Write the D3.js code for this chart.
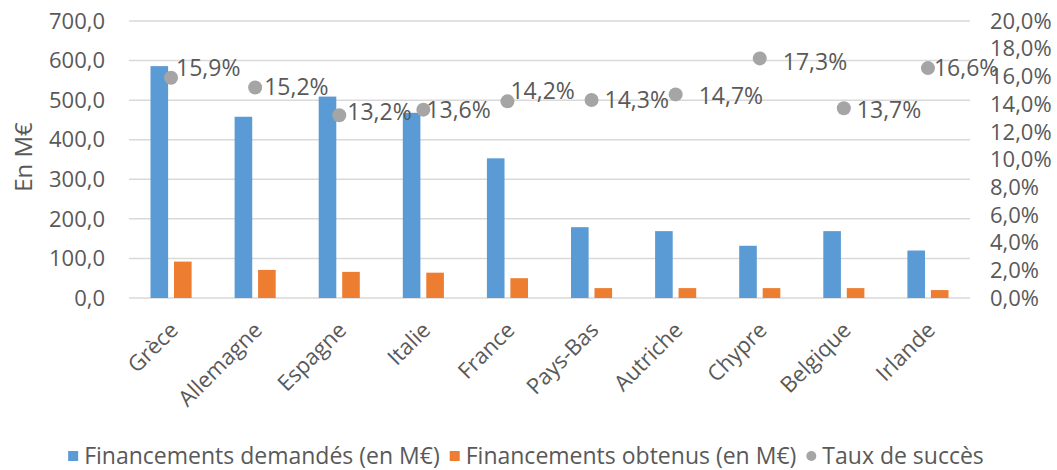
<!DOCTYPE html>
<html>
<head>
<meta charset="utf-8">
<script src="https://cdn.jsdelivr.net/npm/d3@7"></script>
<style>
  html, body { margin: 0; padding: 0; background: #fff; }
  svg text { font-family: "Open Sans", sans-serif; fill: #595959; }
</style>
</head>
<body>
<svg id="chart" width="1057" height="470"></svg>
<script>
const categories = ["Grèce", "Allemagne", "Espagne", "Italie", "France", "Pays-Bas", "Autriche", "Chypre", "Belgique", "Irlande"];
const demandes = [586, 458, 509, 468, 353, 179, 169, 132, 169, 120];
const obtenus = [92, 71, 66, 64, 50, 25, 25, 25, 25, 20];
const taux = [0.159, 0.152, 0.132, 0.136, 0.142, 0.143, 0.147, 0.173, 0.137, 0.166];
const leftTicks = [0, 100, 200, 300, 400, 500, 600, 700];
const rightTicks = [0, 0.02, 0.04, 0.06, 0.08, 0.10, 0.12, 0.14, 0.16, 0.18, 0.20];
const seriesNames = ["Financements demandés (en M€)", "Financements obtenus (en M€)", "Taux de succès"];

// hand placed data labels in the original, nudge from the dot
const labelNudge = [[5, -10], [9, -1], [8, -3], [3, 0], [3, -10], [13, 0], [23, 2], [23, 4], [13, 2], [6, 0]];

const colors = { demandes: "#5b9bd5", obtenus: "#ed7d31", taux: "#a5a5a5" };

const fr = d3.formatLocale({ decimal: ",", thousands: " ", grouping: [3], currency: ["", " €"] });
const fmtLeft = fr.format(".1f");
const fmtRight = fr.format(".1%");

const svg = d3.select("#chart");
const plotLeft = 129, plotRight = 970, plotTop = 21, plotBottom = 298;

const x0 = d3.scaleBand().domain(categories).range([plotLeft, plotRight]);
const x1 = d3.scaleBand().domain(["demandes", "obtenus"]).range([21.5, x0.bandwidth() - 21.5]).paddingInner(0.25);
const y = d3.scaleLinear().domain([0, 700]).range([plotBottom, plotTop]);
const yR = d3.scaleLinear().domain([0, 0.2]).range([plotBottom, plotTop]);

// gridlines
svg.append("g")
  .selectAll("line")
  .data(leftTicks)
  .enter()
  .append("line")
  .attr("x1", plotLeft)
  .attr("x2", plotRight)
  .attr("y1", d => y(d))
  .attr("y2", d => y(d))
  .attr("stroke", "#d9d9d9")
  .attr("stroke-width", 1.5);

// left axis labels
svg.append("g")
  .selectAll("text")
  .data(leftTicks)
  .enter()
  .append("text")
  .attr("x", 105)
  .attr("y", d => y(d))
  .attr("dy", "0.35em")
  .attr("text-anchor", "end")
  .attr("font-size", "22px")
  .text(d => fmtLeft(d));

// right axis labels
svg.append("g")
  .selectAll("text")
  .data(rightTicks)
  .enter()
  .append("text")
  .attr("x", 990)
  .attr("y", d => yR(d))
  .attr("dy", "0.35em")
  .attr("font-size", "22px")
  .text(d => fmtRight(d));

// axis title
svg.append("text")
  .attr("transform", "translate(22, 157) rotate(-90)")
  .attr("text-anchor", "middle")
  .attr("dominant-baseline", "central")
  .attr("font-size", "24px")
  .text("En M€");

// bars
const groups = svg.append("g")
  .selectAll("g")
  .data(categories)
  .enter()
  .append("g")
  .attr("transform", d => `translate(${x0(d)}, 0)`);

groups.append("rect")
  .attr("x", x1("demandes"))
  .attr("width", x1.bandwidth())
  .attr("y", (d, i) => y(demandes[i]))
  .attr("height", (d, i) => y(0) - y(demandes[i]))
  .attr("fill", colors.demandes);

groups.append("rect")
  .attr("x", x1("obtenus"))
  .attr("width", x1.bandwidth())
  .attr("y", (d, i) => y(obtenus[i]))
  .attr("height", (d, i) => y(0) - y(obtenus[i]))
  .attr("fill", colors.obtenus);

// category labels
svg.append("g")
  .selectAll("text")
  .data(categories)
  .enter()
  .append("text")
  .attr("transform", d => `translate(${x0(d) + x0.bandwidth() / 2 + 3}, 326) rotate(-45)`)
  .attr("text-anchor", "end")
  .attr("dy", "0.35em")
  .attr("font-size", "22px")
  .text(d => d);

// success rate dots + labels
const cx = d => x0(d) + x0.bandwidth() / 2;

svg.append("g")
  .selectAll("circle")
  .data(categories)
  .enter()
  .append("circle")
  .attr("cx", cx)
  .attr("cy", (d, i) => yR(taux[i]))
  .attr("r", 7)
  .attr("fill", colors.taux);

svg.append("g")
  .selectAll("text")
  .data(categories)
  .enter()
  .append("text")
  .attr("x", (d, i) => cx(d) + labelNudge[i][0])
  .attr("y", (d, i) => yR(taux[i]) + labelNudge[i][1])
  .attr("dy", "0.35em")
  .attr("font-size", "23px")
  .text((d, i) => fmtRight(taux[i]));

// legend
const legend = svg.append("g");
const legendColors = [colors.demandes, colors.obtenus, colors.taux];
let lx = 0;
seriesNames.forEach((name, i) => {
  const item = legend.append("g").attr("transform", `translate(${lx}, 0)`);
  if (i < 2) {
    item.append("rect").attr("x", 0).attr("y", -5).attr("width", 10).attr("height", 10).attr("fill", legendColors[i]);
  } else {
    item.append("circle").attr("cx", 5).attr("cy", 0).attr("r", 5).attr("fill", legendColors[i]);
  }
  const t = item.append("text")
    .attr("x", 16)
    .attr("dy", "0.35em")
    .attr("font-size", "23px")
    .text(name);
  lx += 16 + t.node().getComputedTextLength() + 10;
});
const legendWidth = lx - 10;
legend.attr("transform", `translate(${526 - legendWidth / 2}, 456)`);
</script>
</body>
</html>
